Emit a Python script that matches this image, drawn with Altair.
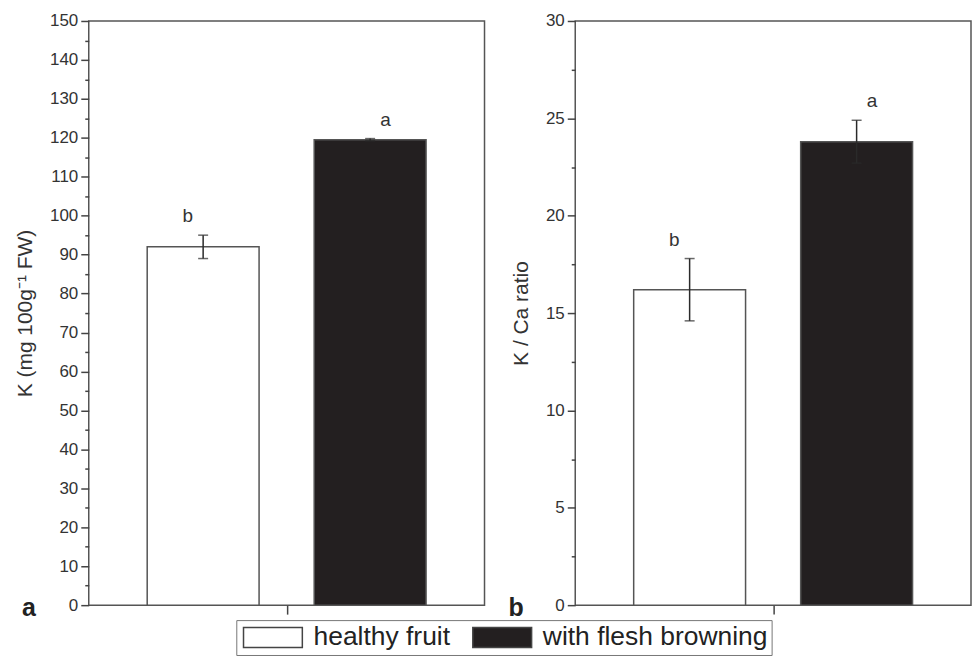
import altair as alt
import pandas as pd

groups = ["healthy fruit", "with flesh browning"]
k_mean = [92.0, 119.5]
k_err = [3.0, 0.3]
ratio_mean = [16.2, 23.8]
ratio_err = [1.6, 1.1]
sig_letters = ["b", "a"]
k_major = list(range(0, 151, 10))
k_minor = list(range(5, 150, 10))
ratio_major = [0, 5, 10, 15, 20, 25, 30]
ratio_minor = [2.5, 7.5, 12.5, 17.5, 22.5, 27.5]

FONT = "Liberation Sans"
fill_scale = alt.Scale(domain=groups, range=["#ffffff", "#231f20"])

legend = alt.Legend(
    title=None, orient="none", legendX=148, legendY=601, direction="horizontal",
    symbolType="M-1,-1H4.9V1H-1Z", symbolSize=400, symbolStrokeColor="#444",
    symbolStrokeWidth=1.5, labelFontSize=26.5, labelFont=FONT, labelColor="#222",
    labelOffset=47, columnPadding=19, padding=4, strokeColor="#777", labelLimit=600,
)


def panel(means, errs, major, minor, ymax, title, label, label_x, width, height):
    df = pd.DataFrame({
        "group": groups,
        "mean": means,
        "lo": [m - e for m, e in zip(means, errs)],
        "hi": [m + e for m, e in zip(means, errs)],
        "letter": sig_letters,
    })
    xs = alt.Scale(domain=groups, paddingInner=0.33, paddingOuter=0.35)
    ys = alt.Scale(domain=[0, ymax], nice=False, zero=True)
    x = alt.X("group:N", scale=xs, axis=None)
    base = alt.Chart(df)
    bars = base.mark_bar(stroke="#555", strokeWidth=1.5).encode(
        x=x,
        y=alt.Y("mean:Q", scale=ys, axis=alt.Axis(values=major, title=title, tickSize=8, orient="left")),
        fill=alt.Fill("group:N", scale=fill_scale, legend=legend),
    )
    err = base.mark_rule(color="#2a2a2a", strokeWidth=1.5).encode(
        x=x, y=alt.Y("lo:Q", scale=ys, axis=None), y2="hi:Q"
    )
    cap_lo = base.mark_tick(size=10, thickness=1.5, color="#2a2a2a").encode(
        x=x, y=alt.Y("lo:Q", scale=ys, axis=None)
    )
    cap_hi = base.mark_tick(size=10, thickness=1.5, color="#2a2a2a").encode(
        x=x, y=alt.Y("hi:Q", scale=ys, axis=None)
    )
    letters = base.mark_text(baseline="alphabetic", dy=-13, fontSize=19, color="#333", font=FONT).encode(
        x=x, y=alt.Y("hi:Q", scale=ys, axis=None), text="letter:N"
    )
    minor_axis = base.mark_point(opacity=0).encode(
        x=alt.XDatum(0.5, type="quantitative", scale=alt.Scale(domain=[0, 1]),
                     axis=alt.Axis(values=[0.5], labels=False, tickSize=9, title=None, domain=False)),
        y=alt.Y("mean:Q", scale=ys,
                axis=alt.Axis(values=minor, labels=False, tickSize=4, title=None, orient="left")),
    )
    plabel = alt.Chart(pd.DataFrame({"label": [label]})).mark_text(
        align="left", baseline="middle", fontSize=25, fontWeight="bold", font=FONT, color="#222"
    ).encode(x=alt.value(label_x), y=alt.value(height + 3), text="label:N")
    return alt.layer(bars, err, cap_lo, cap_hi, letters, minor_axis, plabel).resolve_scale(
        x="independent"
    ).resolve_axis(y="independent", x="independent").properties(width=width, height=height)


left = panel(k_mean, k_err, k_major, k_minor, 150, "K (mg 100g⁻¹ FW)", "a", -67, 397, 586)
right = panel(ratio_mean, ratio_err, ratio_major, ratio_minor, 30, "K / Ca ratio", "b", -67, 397, 586)

chart = alt.hconcat(left, right, spacing=22).properties(
    padding={"left": 5, "top": 2, "right": 0, "bottom": 0}
).configure_view(stroke="#555", strokeWidth=1.5).configure_axis(
    labelFont=FONT, labelFontSize=17, labelColor="#333", titleFont=FONT, titleFontSize=21,
    titleColor="#333", titleFontWeight="normal", tickColor="#444", tickWidth=1.5,
    domain=False, grid=False, labelPadding=3, titlePadding=14,
)

chart.save("out.html", embed_options={"renderer": "svg", "actions": False})
